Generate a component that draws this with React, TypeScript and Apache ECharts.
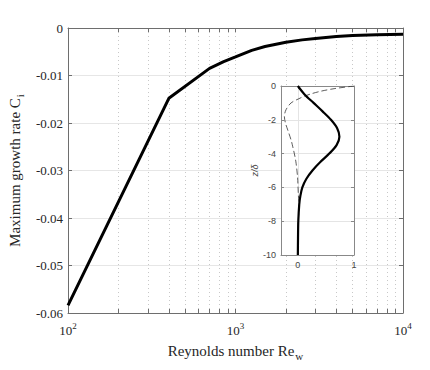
import React, { useEffect, useRef } from "react";
import * as echarts from "echarts";

// Main curve: Reynolds number vs maximum growth rate
const RE = [100, 400, 700, 850, 1000, 1250, 1500, 2000, 2500, 3000, 4000, 5000, 7000, 10000];
const CI = [-0.0584, -0.0148, -0.0085, -0.0071, -0.0061, -0.0047, -0.0039, -0.003, -0.0025, -0.0022, -0.0018, -0.0016, -0.0014, -0.0013];

// Axis ticks (x in Re, y in Ci)
const DECADES = [100, 1000, 10000];
const MINOR_RE = [200, 300, 400, 500, 600, 700, 800, 900, 2000, 3000, 4000, 5000, 6000, 7000, 8000, 9000];

// Inset: eigenfunction profiles vs z/delta
const INSET_Z = [0, -0.5, -1, -1.5, -2, -2.5, -3, -3.5, -4, -4.5, -5, -5.5, -6, -6.5, -7, -8, -9, -10];
const INSET_SOLID = [0, 0.12, 0.28, 0.44, 0.59, 0.7, 0.74, 0.69, 0.56, 0.4, 0.26, 0.15, 0.08, 0.045, 0.025, 0.008, 0.003, 0];
const DASH_Z = [0, -0.15, -0.3, -0.45, -0.6, -0.75, -1, -1.4, -1.8, -2.2, -2.6, -3.2, -3.6, -4.2, -4.6, -5.4, -6.5, -7, -8, -9, -10];
const INSET_DASH = [1.0, 0.66, 0.42, 0.25, 0.12, 0.02, -0.12, -0.21, -0.24, -0.22, -0.18, -0.12, -0.09, -0.05, -0.03, -0.005, 0.01, 0.022, 0.008, 0.003, 0];
const INSET_X_TICKS = [0, 1];

export default function App() {
  const ref = useRef<HTMLDivElement>(null);
  useEffect(() => {
    const chart = echarts.init(ref.current!, null, { renderer: "svg" });
    const lg = (v: number) => Math.log10(v);
    const allTicks = [...DECADES, ...MINOR_RE].sort((a, b) => a - b).map(lg);
    const majorLbl = DECADES.map(lg);
    const serif = "Liberation Serif";
    const sans = "Liberation Sans";
    const axisColor = "#6e6e6e";
    const textColor = "#262626";
    const supRich = {
      b: { fontFamily: serif, fontSize: 13, color: textColor },
      s: { fontFamily: serif, fontSize: 9, color: textColor, padding: [0, 0, 9, 0] },
    };
    chart.setOption({
      animation: false,
      grid: [
        { left: 68, top: 28, right: 27, bottom: 57, outerBoundsMode: "none" },
        {
          left: 281, top: 86, width: 73, height: 169, show: true, backgroundColor: "#fff",
          borderWidth: 0, z: 5, outerBoundsMode: "none",
        },
      ],
      xAxis: [
        {
          type: "value", gridIndex: 0, min: 2, max: 4, position: "bottom",
          axisLine: { show: true, onZero: false, lineStyle: { color: axisColor } },
          axisTick: { show: true, inside: true, length: 4, customValues: allTicks, lineStyle: { color: axisColor } },
          axisLabel: {
            customValues: majorLbl, margin: 8,
            formatter: (v: number) => `{b|10}{s|${Math.round(v)}}`,
            rich: supRich,
          },
          splitLine: { show: true, lineStyle: { type: [1, 3], color: "#c8c8c8" } },
          name: "{a|Reynolds number Re}{w|w}", nameLocation: "middle", nameGap: 28,
          nameTextStyle: {
            rich: {
              a: { fontFamily: serif, fontSize: 15, color: textColor },
              w: { fontFamily: serif, fontSize: 11, color: textColor, padding: [9, 0, 0, 1] },
            },
          },
        },
        {
          type: "value", gridIndex: 0, min: 2, max: 4, position: "top",
          axisLine: { show: true, onZero: false, lineStyle: { color: axisColor } },
          axisTick: { show: true, inside: true, length: 4, customValues: allTicks, lineStyle: { color: axisColor } },
          axisLabel: { show: false },
          splitLine: { show: false },
        },
        {
          type: "value", gridIndex: 1, min: -0.3, max: 1, position: "bottom", z: 6,
          axisLine: { show: true, onZero: false, lineStyle: { color: "#888" } },
          axisTick: { show: true, inside: true, length: 3, customValues: INSET_X_TICKS, lineStyle: { color: "#888" } },
          axisLabel: { customValues: INSET_X_TICKS, margin: 5, fontFamily: sans, fontSize: 9, color: "#444" },
          splitLine: { show: true, lineStyle: { color: "#e4e4e4" } },
        },
        {
          type: "value", gridIndex: 1, min: -0.3, max: 1, position: "top", z: 6,
          axisLine: { show: true, onZero: false, lineStyle: { color: "#888" } },
          axisTick: { show: true, inside: true, length: 3, customValues: INSET_X_TICKS, lineStyle: { color: "#888" } },
          axisLabel: { show: false },
          splitLine: { show: false },
        },
      ],
      yAxis: [
        {
          type: "value", gridIndex: 0, min: -0.06, max: 0, interval: 0.01, position: "left",
          axisLine: { show: true, onZero: false, lineStyle: { color: axisColor } },
          axisTick: { show: true, inside: true, length: 4, lineStyle: { color: axisColor } },
          axisLabel: { fontFamily: serif, fontSize: 13, color: textColor, margin: 5 },
          splitLine: { show: true, lineStyle: { color: "#e6e6e6" } },
          name: "{a|Maximum growth rate C}{i|i}", nameLocation: "middle", nameGap: 42,
          nameTextStyle: {
            rich: {
              a: { fontFamily: serif, fontSize: 15, color: textColor },
              i: { fontFamily: serif, fontSize: 11, color: textColor, padding: [9, 0, 0, 1] },
            },
          },
        },
        {
          type: "value", gridIndex: 0, min: -0.06, max: 0, interval: 0.01, position: "right",
          axisLine: { show: true, onZero: false, lineStyle: { color: axisColor } },
          axisTick: { show: true, inside: true, length: 4, lineStyle: { color: axisColor } },
          axisLabel: { show: false },
          splitLine: { show: false },
        },
        {
          type: "value", gridIndex: 1, min: -10, max: 0, interval: 2, position: "left", z: 6,
          axisLine: { show: true, onZero: false, lineStyle: { color: "#888" } },
          axisTick: { show: true, inside: true, length: 3, lineStyle: { color: "#888" } },
          axisLabel: { fontFamily: sans, fontSize: 9, color: "#444", margin: 5 },
          splitLine: { show: true, lineStyle: { color: "#e4e4e4" } },
          name: "z/δ", nameLocation: "middle", nameGap: 20,
          nameTextStyle: { fontFamily: sans, fontStyle: "italic", fontSize: 9, color: "#444" },
        },
        {
          type: "value", gridIndex: 1, min: -10, max: 0, interval: 2, position: "right", z: 6,
          axisLine: { show: true, onZero: false, lineStyle: { color: "#888" } },
          axisTick: { show: true, inside: true, length: 3, lineStyle: { color: "#888" } },
          axisLabel: { show: false },
          splitLine: { show: false },
        },
      ],
      series: [
        {
          type: "line", xAxisIndex: 0, yAxisIndex: 0, z: 3,
          data: RE.map((r, i) => [lg(r), CI[i]]),
          symbol: "none", lineStyle: { color: "#000", width: 3 },
        },
        {
          type: "line", xAxisIndex: 2, yAxisIndex: 2, z: 10, smooth: 0.3,
          data: INSET_Z.map((z, i) => [INSET_SOLID[i], z]),
          symbol: "none", lineStyle: { color: "#000", width: 2.2 },
        },
        {
          type: "line", xAxisIndex: 2, yAxisIndex: 2, z: 9, smooth: 0.3,
          data: DASH_Z.map((z, i) => [INSET_DASH[i], z]),
          symbol: "none", lineStyle: { color: "#333", width: 0.8, type: [6, 3] },
        },
      ],
    });
    return () => chart.dispose();
  }, []);
  return <div ref={ref} style={{ width: 430, height: 370, margin: -8 }} />;
}
